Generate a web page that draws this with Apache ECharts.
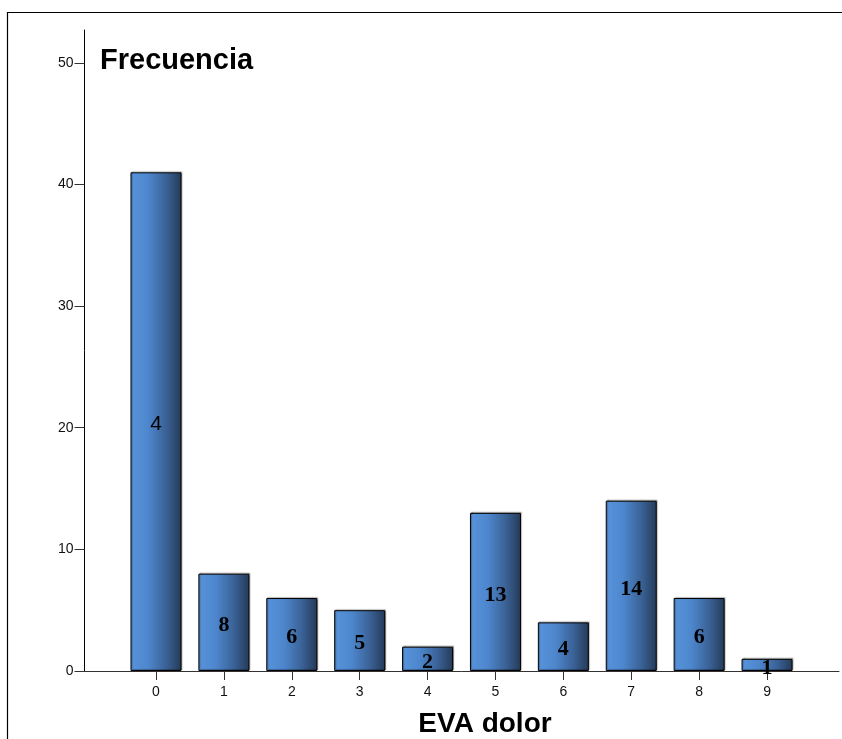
<!DOCTYPE html>
<html>
<head>
<meta charset="utf-8">
<script src="https://cdn.jsdelivr.net/npm/echarts@6/dist/echarts.min.js"></script>
<style>
html,body{margin:0;padding:0;background:#fff;}
#chart{width:842px;height:739px;}
</style>
</head>
<body>
<div id="chart"></div>
<script>
var categories = ['0','1','2','3','4','5','6','7','8','9'];
var frequencies = [41, 8, 6, 5, 2, 13, 4, 14, 6, 1];
var barLabels = ['4','8','6','5','2','13','4','14','6','1'];
var yTickValues = [0, 10, 20, 30, 40, 50];
var yTitle = 'Frecuencia';
var xTitle = 'EVA dolor';

var chart = echarts.init(document.getElementById('chart'));

var barData = frequencies.map(function (v, i) {
  var item = { value: [i, v], name: barLabels[i] };
  if (i === 0) {
    item.label = { fontFamily: 'Liberation Sans, Arial, sans-serif', fontWeight: 'normal', fontSize: 21 };
  }
  return item;
});

var option = {
  animation: false,
  backgroundColor: '#ffffff',
  grid: { left: 84.5, right: 3, top: 30, bottom: 68, containLabel: false, outerBoundsMode: 'none' },
  xAxis: {
    type: 'value',
    min: -1.053,
    max: 10.06,
    splitLine: { show: false },
    axisLine: { show: true, onZero: false, lineStyle: { color: '#333', width: 1 } },
    axisTick: { show: true, customValues: categories.map(function (c, i) { return i; }), length: 9, lineStyle: { color: '#333' } },
    axisLabel: {
      customValues: categories.map(function (c, i) { return i; }),
      formatter: function (v) { return categories[Math.round(v)]; },
      fontFamily: 'Liberation Sans, Arial, sans-serif', fontSize: 14, color: '#111', margin: 14
    }
  },
  yAxis: {
    type: 'value',
    min: 0,
    max: 52.7,
    splitLine: { show: false },
    axisLine: { show: true, onZero: false, lineStyle: { color: '#000', width: 1 } },
    axisTick: { show: true, customValues: yTickValues, length: 10, lineStyle: { color: '#333' } },
    axisLabel: {
      customValues: yTickValues,
      padding: [3, 0, 0, 0],
      fontFamily: 'Liberation Sans, Arial, sans-serif', fontSize: 14, color: '#111', margin: 11
    }
  },
  graphic: [
    { type: 'line', shape: { x1: 7, y1: 12.5, x2: 842, y2: 12.5 }, style: { stroke: '#000', lineWidth: 1.2 } },
    { type: 'line', shape: { x1: 7.5, y1: 12, x2: 7.5, y2: 739 }, style: { stroke: '#000', lineWidth: 1.2 } },
    { type: 'text', left: 100, top: 46, style: { text: yTitle, fontFamily: 'Liberation Sans, Arial, sans-serif', fontWeight: 'bold', fontSize: 29, fill: '#000' } },
    { type: 'text', x: 485, y: 724, style: { text: xTitle, textAlign: 'center', textVerticalAlign: 'middle', fontFamily: 'Liberation Sans, Arial, sans-serif', fontWeight: 'bold', fontSize: 28, fill: '#000' } }
  ],
  series: [{
    type: 'bar',
    data: barData,
    barWidth: 51,
    itemStyle: {
      color: new echarts.graphic.LinearGradient(0, 0, 1, 0, [
        { offset: 0, color: '#5894dc' },
        { offset: 0.35, color: '#4d86cc' },
        { offset: 0.7, color: '#3a6296' },
        { offset: 1, color: '#253a58' }
      ]),
      borderColor: '#000',
      borderWidth: 1,
      shadowColor: 'rgba(0,0,0,0.3)',
      shadowBlur: 1,
      shadowOffsetX: 1,
      shadowOffsetY: -1
    },
    label: {
      show: true,
      position: 'inside',
      offset: [0, 3],
      formatter: function (p) { return p.name; },
      fontFamily: 'Liberation Serif, Times New Roman, serif',
      fontWeight: 'bold',
      fontSize: 22,
      color: '#000'
    }
  }]
};
chart.setOption(option);
</script>
</body>
</html>
